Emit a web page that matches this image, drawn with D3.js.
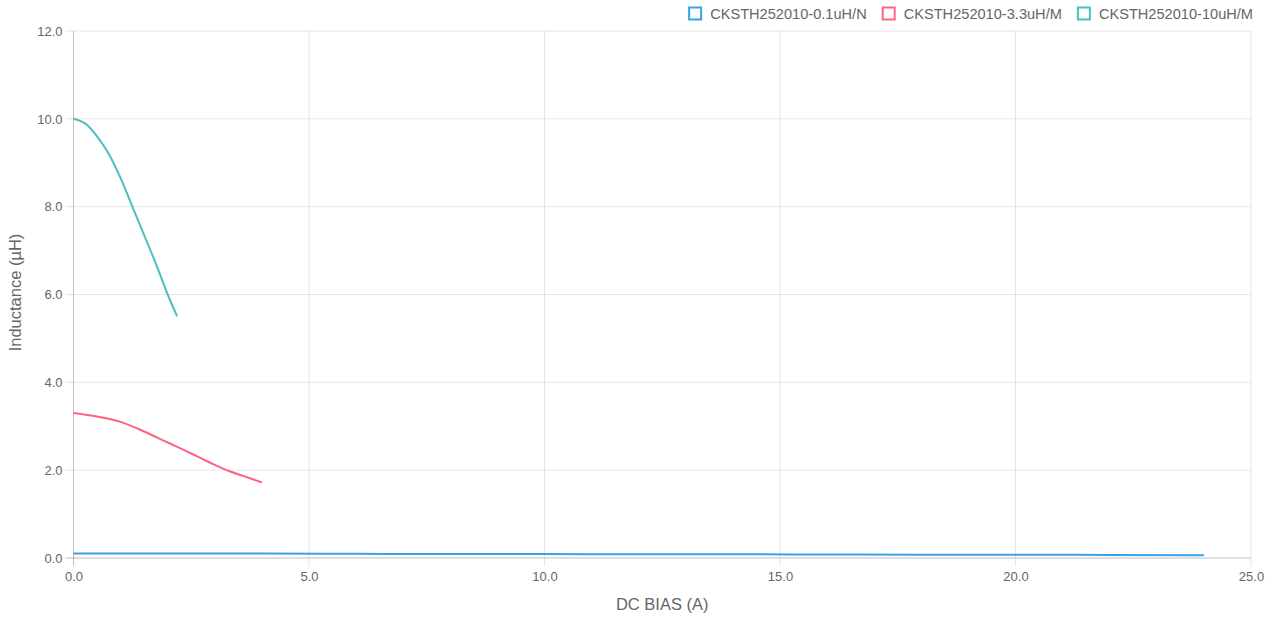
<!DOCTYPE html>
<html>
<head>
<meta charset="utf-8">
<script src="https://cdn.jsdelivr.net/npm/d3@7"></script>
<style>
  body { margin: 0; background: #fff; }
  text { font-family: "Liberation Sans", Arial, Helvetica, sans-serif; fill: #666; }
</style>
</head>
<body>
<div id="chart"></div>
<script>
// Variables
const width = 1277;
const height = 618;

const margin = { top: 31, right: 26, bottom: 60, left: 73.5 };
const innerWidth = width - margin.left - margin.right;
const innerHeight = height - margin.top - margin.bottom;

const xAxisLabel = 'DC BIAS (A)';
const yAxisLabel = 'Inductance (µH)';

const xTicks = [0, 5, 10, 15, 20, 25];
const yTicks = [0, 2, 4, 6, 8, 10, 12];

// Series data
const seriesNames = ['CKSTH252010-0.1uH/N', 'CKSTH252010-3.3uH/M', 'CKSTH252010-10uH/M'];
const seriesColors = ['rgb(54,162,235)', 'rgb(255,99,132)', 'rgb(75,192,192)'];

const biasA = [0, 2, 4, 6, 8, 10, 12, 14, 16, 18, 20, 22, 24];
const valuesA = [0.10, 0.10, 0.10, 0.095, 0.09, 0.09, 0.085, 0.085, 0.08, 0.075, 0.075, 0.07, 0.065];

const biasB = [0, 0.5, 1.0, 1.5, 2.0, 2.5, 2.8, 3.0, 3.3, 3.6, 4.0];
const valuesB = [3.30, 3.22, 3.10, 2.88, 2.63, 2.38, 2.22, 2.12, 1.98, 1.87, 1.72];

const biasC = [0, 0.3, 0.5, 0.75, 1.0, 1.25, 1.5, 1.75, 2.0, 2.2];
const valuesC = [10.0, 9.85, 9.6, 9.2, 8.65, 8.0, 7.35, 6.7, 6.0, 5.5];

const render = () => {
    const svg = d3.select('#chart')
        .append('svg')
            .attr('width', width)
            .attr('height', height);

    const chartGroup = svg.append('g')
        .attr('transform', `translate(${margin.left}, ${margin.top})`);

    const xScale = d3.scaleLinear().domain([0, 25]).range([0, innerWidth]);
    const yScale = d3.scaleLinear().domain([0, 12]).range([innerHeight, 0]);

    // Grid lines
    chartGroup.append('g').selectAll('line').data(xTicks).enter().append('line')
        .attr('x1', d => xScale(d)).attr('x2', d => xScale(d))
        .attr('y1', 0).attr('y2', innerHeight + 8)
        .attr('stroke', d => d === 0 ? 'rgba(0,0,0,0.25)' : 'rgba(0,0,0,0.1)')
        .attr('stroke-width', 1);

    chartGroup.append('g').selectAll('line').data(yTicks).enter().append('line')
        .attr('x1', -8).attr('x2', innerWidth)
        .attr('y1', d => yScale(d)).attr('y2', d => yScale(d))
        .attr('stroke', d => d === 0 ? 'rgba(0,0,0,0.25)' : 'rgba(0,0,0,0.1)')
        .attr('stroke-width', 1);

    // Axes (labels only)
    const xAxis = d3.axisBottom(xScale).tickValues(xTicks).tickFormat(d3.format('.1f')).tickSize(0).tickPadding(14);
    const yAxis = d3.axisLeft(yScale).tickValues(yTicks).tickFormat(d3.format('.1f')).tickSize(0).tickPadding(11);

    const xAxisGroup = chartGroup.append('g')
        .attr('transform', `translate(0, ${innerHeight})`)
        .call(xAxis);
    const yAxisGroup = chartGroup.append('g').call(yAxis);

    [xAxisGroup, yAxisGroup].forEach(g => {
        g.select('.domain').remove();
        g.selectAll('text').attr('fill', '#666').style('font-size', '13px')
            .style('font-family', '"Liberation Sans", Arial, sans-serif');
    });

    // Axis titles
    svg.append('text')
        .text(xAxisLabel)
        .attr('x', margin.left + innerWidth / 2)
        .attr('y', 610)
        .attr('text-anchor', 'middle')
        .style('font-size', '16.5px');

    svg.append('text')
        .text(yAxisLabel)
        .attr('transform', `translate(21, ${margin.top + innerHeight / 2 - 2}) rotate(-90)`)
        .attr('text-anchor', 'middle')
        .style('font-size', '16.5px');

    // Lines
    const seriesData = [
        d3.zip(biasA, valuesA),
        d3.zip(biasB, valuesB),
        d3.zip(biasC, valuesC)
    ];

    const line = d3.line()
        .x(d => xScale(d[0]))
        .y(d => yScale(d[1]))
        .curve(d3.curveMonotoneX);

    chartGroup.append('g').selectAll('path').data(seriesData).enter().append('path')
        .attr('d', line)
        .attr('fill', 'none')
        .attr('stroke', (d, i) => seriesColors[i])
        .attr('stroke-width', 2);

    // Legend (right aligned)
    const legend = svg.append('g');
    const items = legend.selectAll('g').data(seriesNames).enter().append('g');
    items.append('rect')
        .attr('width', 12).attr('height', 12)
        .attr('y', 7.5)
        .attr('fill', '#fff')
        .attr('stroke', (d, i) => seriesColors[i])
        .attr('stroke-width', 2);
    items.append('text')
        .text(d => d)
        .attr('x', 21)
        .attr('y', 18.5)
        .style('font-size', '14.6px');

    let xEnd = 1253;
    const nodes = items.nodes().reverse();
    nodes.forEach(n => {
        const w = d3.select(n).select('text').node().getComputedTextLength();
        xEnd -= (21 + w);
        d3.select(n).attr('transform', `translate(${xEnd}, 0)`);
        xEnd -= 16;
    });
};

render();
</script>
</body>
</html>
